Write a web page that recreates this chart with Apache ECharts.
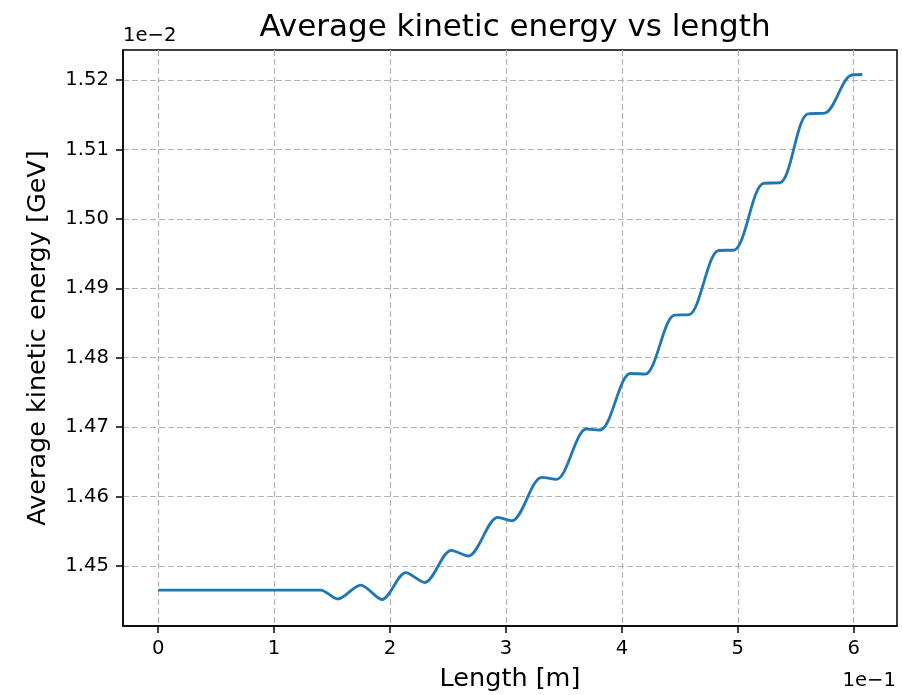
<!DOCTYPE html>
<html>
<head>
<meta charset="utf-8">
<title>Average kinetic energy vs length</title>
<script src="https://cdn.jsdelivr.net/npm/echarts@6/dist/echarts.min.js"></script>
<style>
    html, body { margin: 0; padding: 0; background: #fff; }
    #main { width: 902px; height: 695px; }
</style>
</head>
<body>
<div id="main"></div>
<script>
// values as shown on the axes: length in 1e-1 m, energy in 1e-2 GeV
// (flat start, then wiggles, then steps: each step = start and end of a plateau)
var lengthX = [0, 0.5, 1.0, 1.40, 1.549, 1.747, 1.930, 2.136, 2.299, 2.528, 2.675, 2.929, 3.052,
    3.309, 3.437, 3.693, 3.814, 4.073, 4.202, 4.452, 4.582, 4.832, 4.970,
    5.220, 5.367, 5.600, 5.755, 5.971, 6.074];
var energyY = [1.44654, 1.44654, 1.44654, 1.44654, 1.44525, 1.44726, 1.44518, 1.44904, 1.44762,
    1.45226, 1.45144, 1.45701, 1.45652, 1.46278, 1.46249, 1.46973, 1.46959, 1.47773,
    1.47765, 1.48615, 1.48622, 1.49544, 1.49551, 1.50512, 1.50521,
    1.51510, 1.51525, 1.52065, 1.52079];

var xTicks = [0, 1, 2, 3, 4, 5, 6];
var yTicks = [1.45, 1.46, 1.47, 1.48, 1.49, 1.50, 1.51, 1.52];

var FONT = '"DejaVu Sans", Verdana, sans-serif';

var points = [];
for (var i = 0; i < lengthX.length; i++) {
    points.push([lengthX[i], energyY[i]]);
}

var gridLine = {
    show: true,
    lineStyle: { color: '#b3b3b3', width: 1.2, type: [6, 3] }
};

var myChart = echarts.init(document.getElementById('main'));
var option = {
    backgroundColor: '#fff',
    animation: false,
    title: {
        text: 'Average kinetic energy vs length',
        left: 510,
        top: 7,
        textAlign: 'center',
        textStyle: { fontFamily: FONT, fontSize: 31, fontWeight: 'normal', color: '#000' }
    },
    grid: {
        left: 123, right: 5, top: 50, bottom: 69,
        show: true,
        borderColor: '#000',
        borderWidth: 1.5,
        outerBoundsMode: 'none'
    },
    xAxis: {
        type: 'value',
        min: -0.3035,
        max: 6.3735,
        name: 'Length [m]',
        nameLocation: 'middle',
        nameGap: 40,
        nameTextStyle: { fontFamily: FONT, fontSize: 25.5, color: '#000' },
        axisLine: { show: true, onZero: false, lineStyle: { color: '#000', width: 1.5 } },
        axisTick: { show: true, length: 7, customValues: xTicks, lineStyle: { color: '#000', width: 1.5 } },
        axisLabel: {
            customValues: xTicks,
            margin: 13,
            fontFamily: FONT, fontSize: 19.6, color: '#000',
            formatter: function (v) { return String(v); }
        },
        splitLine: gridLine
    },
    yAxis: {
        type: 'value',
        min: 1.44136,
        max: 1.52432,
        name: 'Average kinetic energy [GeV]',
        nameLocation: 'middle',
        nameGap: 72,
        nameTextStyle: { fontFamily: FONT, fontSize: 25.5, color: '#000' },
        axisLine: { show: true, onZero: false, lineStyle: { color: '#000', width: 1.5 } },
        axisTick: { show: true, length: 7, customValues: yTicks, lineStyle: { color: '#000', width: 1.5 } },
        axisLabel: {
            customValues: yTicks,
            margin: 14,
            fontFamily: FONT, fontSize: 19.6, color: '#000',
            formatter: function (v) { return v.toFixed(2); }
        },
        splitLine: gridLine
    },
    graphic: [
        {   // offset text of the y axis
            type: 'text',
            style: {
                text: '1e\u22122', x: 123, y: 36,
                align: 'left', verticalAlign: 'middle',
                font: '19.6px ' + FONT, fill: '#000'
            }
        },
        {   // offset text of the x axis
            type: 'text',
            style: {
                text: '1e\u22121', x: 896, y: 681,
                align: 'right', verticalAlign: 'middle',
                font: '19.6px ' + FONT, fill: '#000'
            }
        }
    ],
    series: [
        {
            type: 'line',
            data: points,
            smooth: 0.3,
            showSymbol: false,
            lineStyle: { color: '#1f77b4', width: 2.8 },
            itemStyle: { color: '#1f77b4' }
        }
    ]
};
myChart.setOption(option);
</script>
</body>
</html>
